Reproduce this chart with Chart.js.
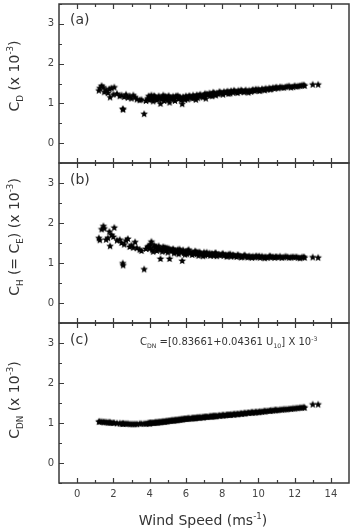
<!DOCTYPE html>
<html><head><meta charset="utf-8">
<script src="https://cdn.jsdelivr.net/npm/chart.js@4"></script>
<style>
body{margin:0;background:#fff;}
#wrap{position:relative;width:355px;height:531px;overflow:hidden;font-family:"DejaVu Sans",Verdana,sans-serif;color:#333;}
canvas{position:absolute;left:0;}
.yt{position:absolute;white-space:nowrap;font-size:14px;transform:translate(-50%,-50%) rotate(-90deg);}
.lbl{position:absolute;white-space:nowrap;}
sub,sup{font-size:62%;line-height:0;}
</style>
</head><body>
<div id="wrap">
<canvas id="ca" width="355" height="165" style="top:0px"></canvas>
<canvas id="cb" width="355" height="164" style="top:161px"></canvas>
<canvas id="cc" width="355" height="210" style="top:321px"></canvas>
<div class="yt" style="left:14px;top:76px;">C<sub>D</sub> (x 10<sup>-3</sup>)</div>
<div class="yt" style="left:14px;top:237px;">C<sub>H</sub> (= C<sub>E</sub>) (x 10<sup>-3</sup>)</div>
<div class="yt" style="left:14px;top:400px;">C<sub>DN</sub> (x 10<sup>-3</sup>)</div>
<div class="lbl" style="left:70px;top:11px;font-size:14px;">(a)</div>
<div class="lbl" style="left:70px;top:171px;font-size:14px;">(b)</div>
<div class="lbl" style="left:70px;top:331px;font-size:14px;">(c)</div>
<div class="lbl" style="left:140px;top:336px;font-size:10px;">C<sub>DN</sub> =[0.83661+0.04361 U<sub>10</sub>] X 10<sup>-3</sup></div>
<div class="lbl" style="left:203px;top:520px;font-size:14px;transform:translate(-50%,-50%);">Wind Speed (ms<sup>-1</sup>)</div>
</div>
<script>
// ---- data ----
const windSpeed = [1.20,1.25,1.35,1.45,1.50,1.60,1.70,1.78,1.82,1.90,2.00,2.05,2.20,2.35,2.45,2.52,2.54,2.60,2.70,2.80,2.90,3.00,3.10,3.20,3.30,3.45,3.55,3.70,3.80,3.90,3.95,4.00,4.05,4.10,4.15,4.20,4.30,4.35,4.40,4.50,4.55,4.60,4.65,4.70,4.80,4.85,4.90,5.00,5.05,5.10,5.15,5.20,5.30,5.35,5.40,5.50,5.55,5.60,5.70,5.75,5.80,5.85,5.90,6.00,6.05,6.10,6.20,6.30,6.35,6.40,6.50,6.60,6.65,6.70,6.80,6.90,7.00,7.05,7.10,7.20,7.30,7.35,7.40,7.50,7.60,7.70,7.80,7.90,8.00,8.10,8.20,8.30,8.35,8.40,8.50,8.60,8.70,8.80,8.90,9.00,9.10,9.20,9.30,9.40,9.50,9.60,9.70,9.80,9.90,10.00,10.10,10.20,10.30,10.40,10.50,10.60,10.70,10.80,10.90,11.00,11.10,11.20,11.40,11.60,11.70,11.90,12.00,12.20,12.40,12.55,13.00,13.30,
4.02,4.25,4.45,4.75,4.95,5.25,5.45,5.65,5.95,6.15,6.45,6.55,6.75,6.95,7.15,7.45,7.55,7.65,7.85,8.05,8.25,8.45,8.65,8.85,9.05,9.25,9.45,9.65,9.85,10.05,10.35,10.65,10.95,11.30,11.50,11.80,12.10,12.30,12.50];
const cdValues = [1.32,1.38,1.44,1.40,1.28,1.33,1.26,1.36,1.15,1.38,1.22,1.40,1.24,1.18,1.20,0.86,0.84,1.16,1.22,1.14,1.18,1.12,1.20,1.15,1.10,1.08,1.09,0.73,1.06,1.12,1.18,1.08,1.15,1.20,1.10,1.05,1.16,1.12,1.08,1.18,1.14,0.99,1.10,1.15,1.06,1.17,1.12,1.08,1.19,1.02,1.14,1.10,1.17,1.12,1.06,1.15,1.19,1.11,1.13,1.08,0.98,1.16,1.12,1.18,1.14,1.10,1.19,1.15,1.12,1.20,1.16,1.21,1.13,1.18,1.22,1.17,1.20,1.24,1.12,1.21,1.25,1.19,1.23,1.27,1.22,1.25,1.23,1.27,1.25,1.29,1.26,1.30,1.24,1.28,1.31,1.27,1.30,1.28,1.32,1.29,1.31,1.28,1.33,1.30,1.32,1.29,1.34,1.31,1.33,1.35,1.32,1.36,1.34,1.37,1.35,1.38,1.36,1.39,1.37,1.40,1.38,1.41,1.39,1.42,1.43,1.41,1.44,1.43,1.45,1.44,1.47,1.47,
1.13,1.19,1.11,1.20,1.15,1.13,1.18,1.16,1.09,1.17,1.14,1.09,1.20,1.15,1.23,1.18,1.26,1.20,1.29,1.22,1.28,1.25,1.32,1.26,1.33,1.30,1.27,1.32,1.35,1.31,1.33,1.35,1.39,1.40,1.41,1.40,1.42,1.44,1.46];
const chValues = [1.62,1.57,1.84,1.92,1.86,1.58,1.62,1.78,1.42,1.70,1.65,1.88,1.56,1.58,1.50,0.99,0.94,1.46,1.56,1.60,1.40,1.44,1.38,1.52,1.37,1.33,1.30,0.84,1.35,1.40,1.42,1.38,1.46,1.53,1.32,1.28,1.38,1.40,1.30,1.42,1.36,1.10,1.33,1.28,1.35,1.38,1.30,1.26,1.36,1.10,1.33,1.29,1.35,1.24,1.31,1.28,1.33,1.22,1.30,1.26,1.05,1.32,1.25,1.28,1.22,1.30,1.24,1.27,1.20,1.25,1.29,1.22,1.26,1.18,1.24,1.21,1.26,1.19,1.23,1.20,1.24,1.18,1.22,1.20,1.24,1.17,1.21,1.19,1.22,1.18,1.20,1.17,1.21,1.19,1.16,1.20,1.18,1.15,1.19,1.17,1.15,1.18,1.16,1.14,1.17,1.15,1.16,1.14,1.17,1.15,1.13,1.16,1.14,1.15,1.13,1.16,1.14,1.15,1.13,1.15,1.14,1.16,1.14,1.15,1.13,1.15,1.14,1.13,1.14,1.13,1.14,1.13,
1.36,1.44,1.34,1.40,1.37,1.32,1.27,1.34,1.21,1.33,1.23,1.28,1.27,1.17,1.26,1.23,1.18,1.25,1.20,1.23,1.16,1.22,1.17,1.20,1.14,1.19,1.15,1.13,1.16,1.17,1.12,1.17,1.15,1.13,1.16,1.14,1.15,1.12,1.15];
const cdnValues = [1.03,1.03,1.03,1.02,1.02,1.02,1.01,1.01,1.01,1.00,1.00,1.00,0.99,0.99,0.98,0.98,0.98,0.98,0.98,0.98,0.97,0.97,0.97,0.97,0.97,0.98,0.98,0.98,0.98,0.99,0.99,0.99,1.00,1.00,1.00,1.00,1.01,1.01,1.01,1.02,1.02,1.02,1.02,1.03,1.03,1.03,1.04,1.04,1.05,1.05,1.05,1.06,1.06,1.06,1.07,1.07,1.07,1.08,1.08,1.09,1.09,1.09,1.10,1.10,1.10,1.11,1.11,1.11,1.12,1.12,1.12,1.13,1.13,1.13,1.14,1.14,1.14,1.15,1.15,1.15,1.16,1.16,1.16,1.17,1.17,1.17,1.18,1.18,1.19,1.19,1.19,1.20,1.20,1.20,1.21,1.21,1.22,1.22,1.22,1.23,1.23,1.24,1.24,1.25,1.25,1.26,1.26,1.26,1.27,1.27,1.28,1.28,1.29,1.29,1.30,1.30,1.31,1.31,1.32,1.32,1.32,1.33,1.34,1.34,1.35,1.36,1.36,1.37,1.38,1.38,1.46,1.46,
0.99,1.00,1.01,1.03,1.04,1.06,1.07,1.08,1.10,1.11,1.12,1.12,1.13,1.14,1.15,1.16,1.17,1.17,1.18,1.19,1.20,1.20,1.21,1.22,1.23,1.24,1.25,1.26,1.27,1.27,1.29,1.30,1.32,1.33,1.34,1.35,1.37,1.38,1.39];
const xTickValues = [0,2,4,6,8,10,12,14];
const yTickValues = [0,1,2,3];

// ---- star marker ----
function makeStar(r){
  const c=document.createElement('canvas'); const s=Math.ceil(r*2)+2; c.width=s; c.height=s;
  const g=c.getContext('2d'); g.fillStyle='#000'; g.beginPath();
  for(let i=0;i<10;i++){const rr=i%2?r*0.45:r; const a=-Math.PI/2+i*Math.PI/5;
    const px=s/2+rr*Math.cos(a), py=s/2+rr*Math.sin(a); i?g.lineTo(px,py):g.moveTo(px,py);}
  g.closePath(); g.fill(); return c;
}
const star = makeStar(4);

const framePlugin = {id:'frame', afterDraw(chart){
  const {ctx, chartArea:a, scales:{x,y}} = chart;
  ctx.save(); ctx.strokeStyle='#3a3a3a';
  ctx.lineWidth=1.2;
  ctx.beginPath();
  for(let v=0; v<=14; v++){
    const px=Math.round(x.getPixelForValue(v))+0.5; const len = v%2===0?5:3;
    ctx.moveTo(px,a.bottom); ctx.lineTo(px,a.bottom-len);
    ctx.moveTo(px,a.top); ctx.lineTo(px,a.top+len);
  }
  for(let v=-0.5; v<=3.5; v+=0.5){
    const py=Math.round(y.getPixelForValue(v))+0.5; const len = Number.isInteger(v)?5:3;
    ctx.moveTo(a.left,py); ctx.lineTo(a.left+len,py);
  }
  ctx.stroke();
  ctx.lineWidth=1.5;
  ctx.strokeRect(a.left,a.top,a.right-a.left,a.bottom-a.top);
  ctx.restore();
}};

function makePanel(id, values, showX, pad){
  const pts = windSpeed.map((w,i)=>({x:w,y:values[i]}));
  new Chart(document.getElementById(id), {
    type:'scatter',
    data:{datasets:[{data:pts, pointStyle:star, backgroundColor:'#000', borderColor:'#000'}]},
    plugins:[framePlugin],
    options:{
      responsive:false, animation:false, devicePixelRatio:1,
      layout:{autoPadding:false, padding:{left:0,right:6,top:pad.top,bottom:pad.bottom}},
      plugins:{legend:{display:false}, tooltip:{enabled:false}},
      scales:{
        x:{type:'linear', min:-1, max:15, display:showX,
           afterBuildTicks:s=>{s.ticks=xTickValues.map(v=>({value:v}));},
           afterFit:s=>{s.height=showX?48:0; s.paddingLeft=0; s.paddingRight=0;},
           grid:{display:false, drawTicks:false}, border:{display:false},
           ticks:{padding:5, color:'#444', font:{family:'"DejaVu Sans"', size:10}}},
        y:{type:'linear', min:-0.5, max:3.5,
           afterBuildTicks:s=>{s.ticks=yTickValues.map(v=>({value:v}));},
           afterFit:s=>{s.width=59; s.paddingTop=0; s.paddingBottom=0;},
           grid:{display:false, drawTicks:false}, border:{display:false},
           ticks:{padding:5, color:'#444', font:{family:'"DejaVu Sans"', size:10}}}
      }
    }
  });
}
makePanel('ca', cdValues, false, {top:4,bottom:2});
makePanel('cb', chValues, false, {top:2,bottom:2});
makePanel('cc', cdnValues, true, {top:2,bottom:0});
</script>
</body></html>
